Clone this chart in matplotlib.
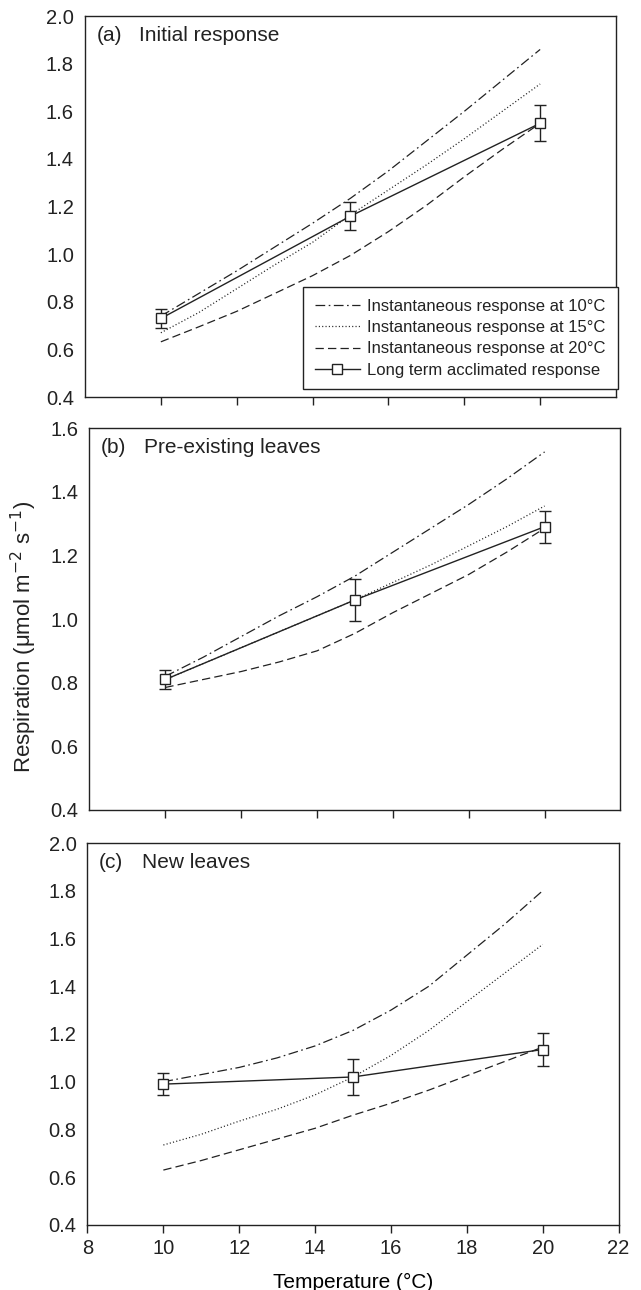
import matplotlib

matplotlib.use("Agg")
import matplotlib.pyplot as plt
import numpy as np

plt.rcParams["font.family"] = ["Liberation Sans", "DejaVu Sans"]
plt.rcParams["lines.scale_dashes"] = False
plt.rcParams["text.color"] = "#222222"
plt.rcParams["axes.edgecolor"] = "#222222"
plt.rcParams["xtick.color"] = "#222222"
plt.rcParams["ytick.color"] = "#222222"

# temperatures (degC) for the instantaneous-response curves
curve_temps = [10, 11, 12, 13, 14, 15, 16, 17, 18, 19, 20]
# temperatures of the measured (acclimated) points
meas_temps = [10, 15, 20]

# (a) Initial response
a_inst10 = [0.74, 0.835, 0.93, 1.03, 1.13, 1.235, 1.35, 1.475, 1.60, 1.73, 1.86]
a_inst15 = [0.67, 0.755, 0.855, 0.955, 1.05, 1.165, 1.27, 1.375, 1.485, 1.60, 1.715]
a_inst20 = [0.632, 0.695, 0.76, 0.835, 0.91, 0.995, 1.095, 1.205, 1.325, 1.44, 1.55]
a_accl = [0.73, 1.16, 1.55]
a_err = [0.04, 0.06, 0.075]

# (b) Pre-existing leaves
b_inst10 = [0.82, 0.88, 0.945, 1.01, 1.07, 1.135, 1.21, 1.285, 1.36, 1.44, 1.525]
b_inst15 = [0.81, 0.86, 0.91, 0.96, 1.01, 1.06, 1.115, 1.17, 1.23, 1.29, 1.355]
b_inst20 = [0.785, 0.81, 0.835, 0.865, 0.90, 0.955, 1.02, 1.08, 1.14, 1.21, 1.285]
b_accl = [0.81, 1.06, 1.29]
b_err = [0.03, 0.065, 0.05]

# (c) New leaves
c_inst10 = [1.0, 1.03, 1.06, 1.10, 1.15, 1.215, 1.30, 1.40, 1.53, 1.66, 1.80]
c_inst15 = [0.735, 0.78, 0.835, 0.885, 0.945, 1.02, 1.11, 1.215, 1.335, 1.455, 1.575]
c_inst20 = [0.63, 0.67, 0.715, 0.76, 0.805, 0.86, 0.91, 0.965, 1.025, 1.085, 1.145]
c_accl = [0.99, 1.02, 1.135]
c_err = [0.045, 0.075, 0.068]

panel_tags = ["(a)", "(b)", "(c)"]
panel_titles = ["Initial response", "Pre-existing leaves", "New leaves"]
legend_labels = [
    "Instantaneous response at 10\u00b0C",
    "Instantaneous response at 15\u00b0C",
    "Instantaneous response at 20\u00b0C",
    "Long term acclimated response",
]

ink = "#222222"
dashdot = (0, (7, 2.5, 1.2, 2.5))
dotted = (0, (0.8, 1.6))
dashed = (0, (6, 3))

fig = plt.figure(figsize=(6.41, 12.9), dpi=100)
positions = [
    [0.1326, 0.6922, 0.8284, 0.2953],
    [0.1396, 0.3721, 0.8284, 0.2961],
    [0.1365, 0.0504, 0.8284, 0.2961],
]
panels = [
    (a_inst10, a_inst15, a_inst20, a_accl, a_err, 2.0),
    (b_inst10, b_inst15, b_inst20, b_accl, b_err, 1.6),
    (c_inst10, c_inst15, c_inst20, c_accl, c_err, 2.0),
]

for i, (inst10, inst15, inst20, accl, err, ytop) in enumerate(panels):
    ax = fig.add_axes(positions[i])
    h1, = ax.plot(curve_temps, inst10, color=ink, lw=0.9, linestyle=dashdot)
    h2, = ax.plot(curve_temps, inst15, color=ink, lw=0.9, linestyle=dotted)
    h3, = ax.plot(curve_temps, inst20, color=ink, lw=0.9, linestyle=dashed)
    ax.errorbar(
        meas_temps, accl, yerr=err, fmt="none", ecolor=ink,
        elinewidth=1.0, capsize=4, capthick=1.0, zorder=3,
    )
    h4, = ax.plot(
        meas_temps, accl, color=ink, lw=1.0, marker="s", markersize=7,
        markerfacecolor="white", markeredgecolor=ink, markeredgewidth=1.0,
        zorder=4,
    )

    ax.set_xlim(8, 22)
    ax.set_ylim(0.4, ytop)
    yt = np.arange(0.4, ytop + 0.01, 0.2)
    ax.set_yticks(yt)
    ax.set_yticklabels([f"{v:.1f}" for v in yt])
    ax.tick_params(axis="y", length=0, pad=8, labelsize=14.5)
    if i == 2:
        ax.set_xticks(np.arange(8, 23, 2))
        ax.tick_params(axis="x", length=6, width=1.0, direction="out",
                       labelsize=14.5, pad=4)
        ax.set_xlabel("Temperature (\u00b0C)", fontsize=15, labelpad=11)
    else:
        ax.set_xticks(np.arange(10, 21, 2))
        ax.tick_params(axis="x", length=6, width=1.0, direction="out",
                       labelbottom=False)
    for sp in ax.spines.values():
        sp.set_linewidth(1.0)

    ax.text(0.022, 0.948, panel_tags[i], transform=ax.transAxes,
            fontsize=15, va="center", ha="left")
    ax.text(0.102, 0.948, panel_titles[i], transform=ax.transAxes,
            fontsize=15, va="center", ha="left")

    if i == 0:
        leg = ax.legend(
            [h1, h2, h3, h4], legend_labels, loc="lower right",
            bbox_to_anchor=(1.003, 0.02), fontsize=12, frameon=True,
            fancybox=False, edgecolor=ink, framealpha=1, numpoints=1,
            handlelength=2.7, handletextpad=0.45, labelspacing=0.38,
            borderpad=0.7, borderaxespad=0.0,
        )
        leg.get_frame().set_linewidth(1.0)

fig.text(0.037, 1 - 637 / 1290, "Respiration (\u03bcmol m$^{-2}$ s$^{-1}$)",
         rotation=90, fontsize=16, va="center", ha="center")

fig.savefig("out.png", dpi=100)
